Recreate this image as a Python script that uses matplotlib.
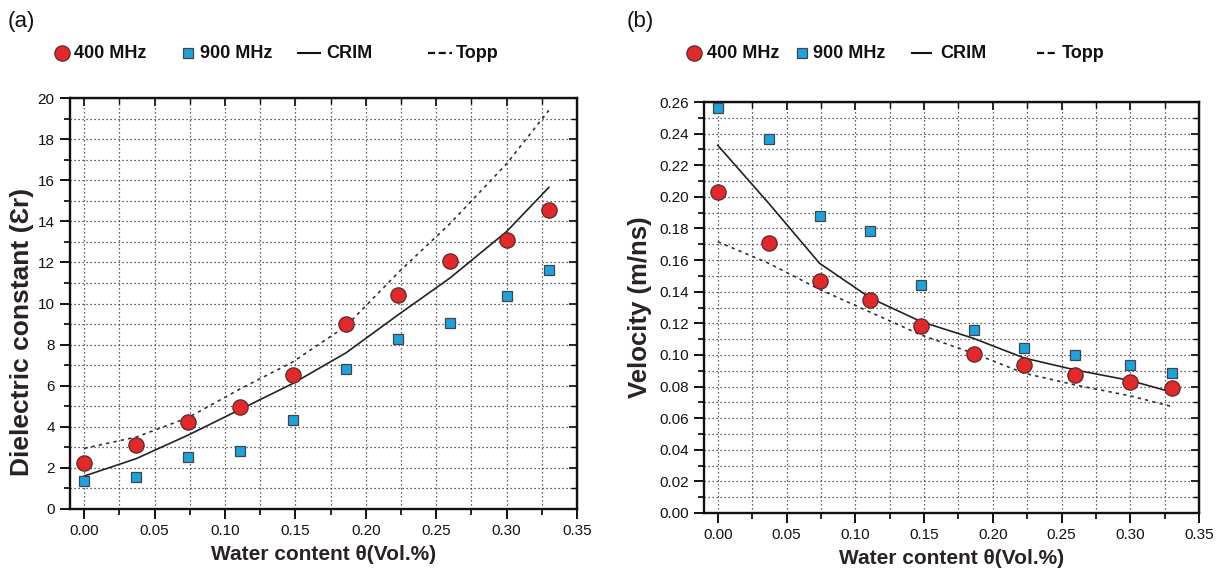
import matplotlib
matplotlib.use("Agg")
import matplotlib.pyplot as plt
from matplotlib.lines import Line2D
from matplotlib.ticker import MultipleLocator, FormatStrFormatter

# water content (Vol. fraction) shared by both panels
theta = [0.0, 0.037, 0.074, 0.111, 0.148, 0.186, 0.223, 0.260, 0.300, 0.330]

# (a) dielectric constant
eps_400 = [2.22, 3.12, 4.24, 4.98, 6.51, 9.01, 10.39, 12.05, 13.07, 14.56]
eps_900 = [1.36, 1.57, 2.53, 2.82, 4.32, 6.80, 8.26, 9.04, 10.37, 11.62]
eps_crim = [1.6, 2.45, 3.6, 4.85, 6.1, 7.6, 9.45, 11.25, 13.5, 15.65]
eps_topp = [2.95, 3.5, 4.45, 5.85, 7.15, 8.9, 11.5, 13.9, 16.8, 19.4]

# (b) velocity (m/ns)
v_400 = [0.203, 0.1705, 0.147, 0.135, 0.118, 0.1005, 0.0937, 0.0874, 0.083, 0.079]
v_900 = [0.2562, 0.2364, 0.188, 0.1787, 0.144, 0.1156, 0.1042, 0.1002, 0.0935, 0.0884]
v_crim = [0.2326, 0.196, 0.158, 0.136, 0.121, 0.1105, 0.098, 0.0905, 0.0838, 0.0765]
v_topp = [0.1716, 0.158, 0.1415, 0.127, 0.1126, 0.101, 0.0884, 0.081, 0.0741, 0.0674]

legend_labels = ["400 MHz", "900 MHz", "CRIM", "Topp"]

RED = "#e3282c"
BLUE = "#1ca3de"
INK = "#2a2222"
FONT = ["Liberation Sans", "DejaVu Sans"]

W, H = 1225, 575
fig = plt.figure(figsize=(W / 100, H / 100), dpi=100)


def px_box(x0, y0, x1, y1):
    return [x0 / W, 1 - y1 / H, (x1 - x0) / W, (y1 - y0) / H]


def style_axes(ax, ymax, ymajor, yminor, fmt):
    ax.set_xlim(-0.01, 0.35)
    ax.set_ylim(0, ymax)
    ax.xaxis.set_major_locator(MultipleLocator(0.05))
    ax.xaxis.set_minor_locator(MultipleLocator(0.025))
    ax.yaxis.set_major_locator(MultipleLocator(ymajor))
    ax.yaxis.set_minor_locator(MultipleLocator(yminor))
    ax.xaxis.set_major_formatter(FormatStrFormatter("%.2f"))
    ax.yaxis.set_major_formatter(FormatStrFormatter(fmt))
    ax.grid(which="both", linestyle=(0, (1, 2.2)), color="#333333", linewidth=0.9)
    ax.set_axisbelow(True)
    for s in ax.spines.values():
        s.set_linewidth(1.7)
        s.set_color("#111111")
    ax.tick_params(which="major", direction="out", length=7, width=1.4,
                   labelsize=11, colors="#111111", pad=4)
    ax.tick_params(which="minor", direction="out", length=4, width=1.2)
    for lab in ax.get_xticklabels() + ax.get_yticklabels():
        lab.set_family(FONT)
    # inward ticks on top and right
    top = ax.secondary_xaxis("top")
    top.xaxis.set_major_locator(MultipleLocator(0.05))
    top.xaxis.set_minor_locator(MultipleLocator(0.025))
    top.tick_params(which="major", direction="in", length=6, width=1.2, labeltop=False)
    top.tick_params(which="minor", direction="in", length=4, width=1.0)
    right = ax.secondary_yaxis("right")
    right.yaxis.set_major_locator(MultipleLocator(ymajor))
    right.yaxis.set_minor_locator(MultipleLocator(yminor))
    right.tick_params(which="major", direction="in", length=6, width=1.2, labelright=False)
    right.tick_params(which="minor", direction="in", length=4, width=1.0)


def draw_series(ax, y400, y900, ycrim, ytopp):
    ax.plot(theta, ycrim, color="#222222", linewidth=1.2, zorder=3)
    ax.plot(theta, ytopp, color="#333333", linewidth=1.2, linestyle=(0, (2, 2.5)), zorder=3)
    ax.plot(theta, y900, linestyle="none", marker="s", markersize=7.5,
            markerfacecolor=BLUE, markeredgecolor="#444444", markeredgewidth=0.9,
            zorder=4, clip_on=False)
    ax.plot(theta, y400, linestyle="none", marker="o", markersize=11,
            markerfacecolor=RED, markeredgecolor="#5a2a2a", markeredgewidth=0.9,
            zorder=5, clip_on=False)


def legend_row(xs, y):
    # xs: circle, text, square, text, line start, line end, text, dash start, dash end, text
    yf = 1 - y / H
    kw = dict(family=FONT, fontweight="bold", fontsize=13, color="#111111",
              va="center", ha="left")
    fig.add_artist(Line2D([xs[0] / W], [yf], marker="o", markersize=11, linestyle="none",
                          markerfacecolor=RED, markeredgecolor="#5a2a2a",
                          markeredgewidth=0.9, transform=fig.transFigure))
    fig.text(xs[1] / W, yf, legend_labels[0], **kw)
    fig.add_artist(Line2D([xs[2] / W], [yf], marker="s", markersize=7, linestyle="none",
                          markerfacecolor=BLUE, markeredgecolor="#444444",
                          markeredgewidth=0.9, transform=fig.transFigure))
    fig.text(xs[3] / W, yf, legend_labels[1], **kw)
    fig.add_artist(Line2D([xs[4] / W, xs[5] / W], [yf, yf], color="#111111",
                          linewidth=1.5, transform=fig.transFigure))
    fig.text(xs[6] / W, yf, legend_labels[2], **kw)
    fig.add_artist(Line2D([xs[7] / W, xs[8] / W], [yf, yf], color="#111111",
                          linewidth=1.6, linestyle=(0, (3.2, 1.6)),
                          transform=fig.transFigure))
    fig.text(xs[9] / W, yf, legend_labels[3], **kw)


# ── Panel (a): dielectric constant ──
ax1 = fig.add_axes(px_box(70, 98, 577, 509))
style_axes(ax1, 20, 2, 1, "%d")
draw_series(ax1, eps_400, eps_900, eps_crim, eps_topp)
ax1.set_xlabel("Water content θ(Vol.%)", family=FONT, fontweight="bold",
               fontsize=15, color=INK, labelpad=5)
ax1.set_ylabel("Dielectric constant (Ɛr)", family=FONT, fontweight="bold",
               fontsize=19, color=INK)
ax1.yaxis.set_label_coords(-0.071, 0.43)

# ── Panel (b): velocity ──
ax2 = fig.add_axes(px_box(704, 102, 1199, 513))
style_axes(ax2, 0.26, 0.02, 0.01, "%.2f")
draw_series(ax2, v_400, v_900, v_crim, v_topp)
ax2.set_xlabel("Water content θ(Vol.%)", family=FONT, fontweight="bold",
               fontsize=15, color=INK, labelpad=5)
ax2.set_ylabel("Velocity (m/ns)", family=FONT, fontweight="bold",
               fontsize=18.5, color=INK)
ax2.yaxis.set_label_coords(-0.105, 0.5)

fig.text(8 / W, 1 - 21 / H, "(a)", family=FONT, fontsize=16, color="#111111", va="center")
fig.text(627 / W, 1 - 21 / H, "(b)", family=FONT, fontsize=16, color="#111111", va="center")

legend_row([62, 74, 188, 200, 298, 320, 326, 428, 452, 456], 53)
legend_row([694, 707, 802, 813, 912, 931, 940, 1037, 1058, 1062], 53)

fig.savefig("out.png", dpi=100)
